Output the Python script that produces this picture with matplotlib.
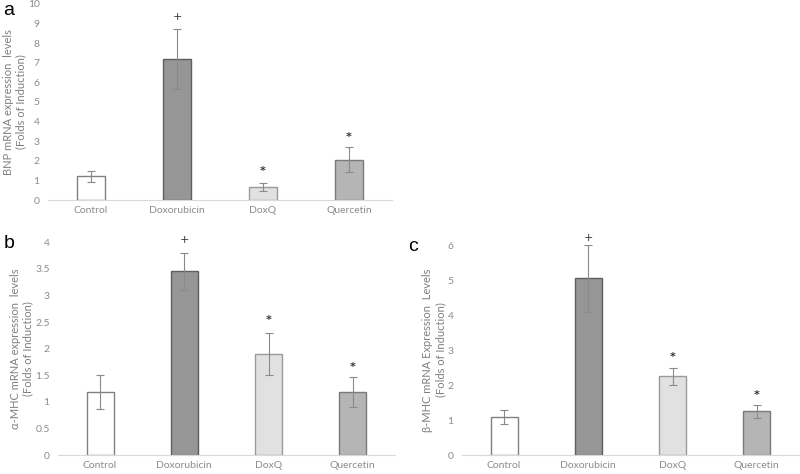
import numpy as np
import matplotlib.pyplot as plt

groups = ["Control", "Doxorubicin", "DoxQ", "Quercetin"]

# panel a: BNP
bnp_mean = [1.2, 7.2, 0.68, 2.05]
bnp_err = [0.28, 1.52, 0.2, 0.64]
bnp_marks = ["", "+", "*", "*"]
bnp_mark_y = [0, 9.35, 1.5, 3.2]

# panel b: alpha-MHC
amhc_mean = [1.18, 3.45, 1.9, 1.18]
amhc_err = [0.32, 0.35, 0.4, 0.28]
amhc_marks = ["", "+", "*", "*"]
amhc_mark_y = [0, 4.05, 2.53, 1.65]

# panel c: beta-MHC
bmhc_mean = [1.1, 5.05, 2.25, 1.25]
bmhc_err = [0.2, 0.95, 0.25, 0.18]
bmhc_marks = ["", "+", "*", "*"]
bmhc_mark_y = [0, 6.2, 2.8, 1.72]

face_colors = ["#ffffff", "#969696", "#e1e1e1", "#b5b5b5"]
edge_colors = ["#808080", "#5e5e5e", "#9a9a9a", "#7a7a7a"]
tick_color = "#8c8c8c"
font = "Lato"

plt.rcParams["font.family"] = [font, "DejaVu Sans"]

fig = plt.figure(figsize=(8, 4.74), dpi=100)


def panel(rect, means, errs, marks, mark_y, ymax, yticks, yticklabels, ylabel, letter, letter_xy):
    ax = fig.add_axes(rect)
    x = np.arange(len(groups))
    ax.bar(x, means, width=0.32, color=face_colors, edgecolor=edge_colors, linewidth=1.0, zorder=2)
    ax.errorbar(x, means, yerr=errs, fmt="none", ecolor="#8a8a8a", elinewidth=0.8,
                capsize=3, capthick=0.8, zorder=3)
    for xi, m, my in zip(x, marks, mark_y):
        if m:
            ax.text(xi, my, m, ha="center", va="center", fontsize=8, color="#333333",
                    family="DejaVu Sans", fontweight="bold" if m == "*" else "normal")
    ax.set_xlim(-0.5, len(groups) - 0.5)
    ax.set_ylim(0, ymax)
    ax.set_xticks(x)
    ax.set_xticklabels(groups)
    ax.set_yticks(yticks)
    ax.set_yticklabels(yticklabels)
    for s in ["top", "right", "left"]:
        ax.spines[s].set_visible(False)
    ax.spines["bottom"].set_color("#d9d9d9")
    ax.spines["bottom"].set_linewidth(0.8)
    ax.tick_params(axis="both", length=0, colors=tick_color, labelsize=7.5)
    ax.tick_params(axis="x", pad=4)
    ax.tick_params(axis="y", pad=6)
    ax.set_ylabel(ylabel, fontsize=8, color="#7f7f7f", linespacing=1.2, labelpad=1)
    fig.text(letter_xy[0], letter_xy[1], letter, fontsize=14, color="black",
             family="Liberation Sans", ha="left", va="center")
    return ax


panel([0.06, 0.578, 0.43, 0.414], bnp_mean, bnp_err, bnp_marks, bnp_mark_y,
      10, range(0, 11), [str(v) for v in range(0, 11)],
      "BNP mRNA expression  levels\n(Folds of Induction)", "a", (0.004, 0.978))

panel([0.0725, 0.04, 0.421, 0.449], amhc_mean, amhc_err, amhc_marks, amhc_mark_y,
      4, np.arange(0, 4.5, 0.5), ["0", "0.5", "1", "1.5", "2", "2.5", "3", "3.5", "4"],
      "α-MHC mRNA expression  levels\n(Folds of Induction)", "b", (0.004, 0.486))

panel([0.5775, 0.04, 0.421, 0.443], bmhc_mean, bmhc_err, bmhc_marks, bmhc_mark_y,
      6, range(0, 7), [str(v) for v in range(0, 7)],
      "β-MHC mRNA Expression  Levels\n(Folds of Induction)", "c", (0.51, 0.481))

fig.savefig("out.png", dpi=100)
